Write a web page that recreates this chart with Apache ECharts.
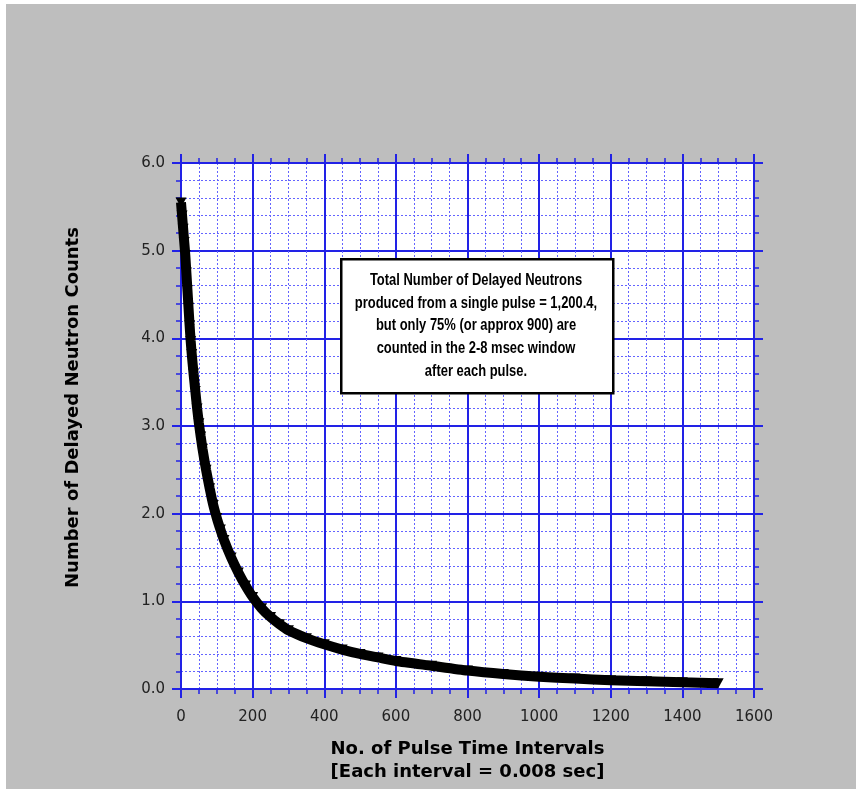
<!DOCTYPE html>
<html>
<head>
<meta charset="utf-8">
<script src="https://cdn.jsdelivr.net/npm/echarts@6/dist/echarts.min.js"></script>
<style>
  html, body { margin: 0; padding: 0; background: #ffffff; }
  #main { position: absolute; left: 6px; top: 4px; width: 850px; height: 785px; background: #bebebe; }
</style>
</head>
<body>
<div id="main"></div>
<script>
const chartDom = document.getElementById('main');
const myChart = echarts.init(chartDom);

// Pulse interval index and counts per interval
const pulseIntervals = [0, 3, 6, 9, 12, 15, 18, 21, 24, 27, 30, 35, 40, 45, 50, 55, 60, 70, 80, 90,
    100, 110, 120, 140, 160, 180, 200, 225, 250, 275, 300, 350, 400, 450, 500, 550, 600,
    700, 800, 900, 1000, 1100, 1200, 1300, 1400, 1500];
const delayedCounts = [5.55, 5.4, 5.25, 5.1, 4.95, 4.75, 4.55, 4.35, 4.15, 3.97, 3.82, 3.6, 3.4, 3.2, 3.03, 2.88, 2.74, 2.5, 2.29, 2.1,
    1.95, 1.82, 1.7, 1.5, 1.33, 1.18, 1.05, 0.92, 0.82, 0.74, 0.67, 0.58, 0.51, 0.45, 0.4, 0.36, 0.32,
    0.265, 0.21, 0.17, 0.14, 0.12, 0.1, 0.088, 0.076, 0.065];

const xRange = [0, 1600];
const yRange = [0, 6];

const noteLines = [
    'Total Number of Delayed Neutrons',
    'produced from a single pulse = 1,200.4,',
    'but only 75% (or approx 900) are',
    'counted in the 2-8 msec window',
    'after each pulse.'
];

const blue = '#2222e6';
const dotBlue = '#6464ff';

// shared axis look (frame + ticks on all four sides)
const frameAxis = {
    axisLine: { show: true, onZero: false, lineStyle: { color: blue, width: 2 } },
    axisTick: { show: true, inside: false, length: 9, lineStyle: { color: blue, width: 2 } },
    minorTick: { show: true, length: 5, lineStyle: { color: blue, width: 1.5 } }
};

const option = {
    animation: false,
    grid: {
        left: 175, top: 159, width: 573, height: 526,
        show: true, backgroundColor: '#ffffff', borderWidth: 0
    },
    xAxis: [{
        type: 'value', min: xRange[0], max: xRange[1], interval: 200,
        ...frameAxis,
        minorTick: { ...frameAxis.minorTick, splitNumber: 4 },
        axisLabel: { margin: 21, color: '#222', fontFamily: 'DejaVu Sans', fontSize: 15,
            formatter: v => String(v) },
        splitLine: { show: true, lineStyle: { color: blue, width: 2 } },
        minorSplitLine: { show: true, lineStyle: { color: dotBlue, width: 1, type: [2, 2] } },
        name: 'No. of Pulse Time Intervals\n[Each interval = 0.008 sec]',
        nameLocation: 'middle',
        nameGap: 49,
        nameTextStyle: { color: '#000', fontFamily: 'DejaVu Sans', fontWeight: 'bold', fontSize: 18, lineHeight: 23 }
    }, {
        type: 'value', position: 'top', min: xRange[0], max: xRange[1], interval: 200,
        ...frameAxis,
        minorTick: { ...frameAxis.minorTick, splitNumber: 4 },
        axisLabel: { show: false },
        splitLine: { show: false }
    }],
    yAxis: [{
        type: 'value', min: yRange[0], max: yRange[1], interval: 1,
        ...frameAxis,
        minorTick: { ...frameAxis.minorTick, splitNumber: 5 },
        axisLabel: { margin: 16, color: '#222', fontFamily: 'DejaVu Sans', fontSize: 15,
            formatter: v => v.toFixed(1) },
        splitLine: { show: true, lineStyle: { color: blue, width: 2 } },
        minorSplitLine: { show: true, lineStyle: { color: dotBlue, width: 1, type: [2, 2] } },
        name: 'Number of Delayed Neutron Counts',
        nameLocation: 'middle',
        nameGap: 98,
        nameTextStyle: { color: '#000', fontFamily: 'DejaVu Sans', fontWeight: 'bold', fontSize: 18,
            lineHeight: 20, padding: [0, 0, 0, 37] }
    }, {
        type: 'value', position: 'right', min: yRange[0], max: yRange[1], interval: 1,
        ...frameAxis,
        minorTick: { ...frameAxis.minorTick, splitNumber: 5 },
        axisLabel: { show: false },
        splitLine: { show: false }
    }],
    series: [{
        type: 'line',
        data: pulseIntervals.map((x, i) => [x, delayedCounts[i]]),
        smooth: 0.2,
        symbol: 'triangle',
        symbolRotate: 180,
        symbolSize: [11, 10],
        showAllSymbol: true,
        lineStyle: { color: '#000', width: 10 },
        itemStyle: { color: '#000' },
        z: 5
    }],
    graphic: [{
        type: 'rect', left: 334, top: 254, z: 100,
        shape: { width: 272, height: 134 },
        style: { fill: '#ffffff', stroke: '#000', lineWidth: 2.5 }
    }, {
        type: 'text', x: 470, y: 322, z: 101, scaleX: 0.81,
        style: {
            text: noteLines.join('\n'),
            font: 'bold 16px "Liberation Sans"',
            fill: '#000',
            align: 'center', verticalAlign: 'middle',
            textAlign: 'center', textVerticalAlign: 'middle',
            lineHeight: 22.75
        }
    }]
};

myChart.setOption(option);
window.onresize = () => myChart.resize();
</script>
</body>
</html>
